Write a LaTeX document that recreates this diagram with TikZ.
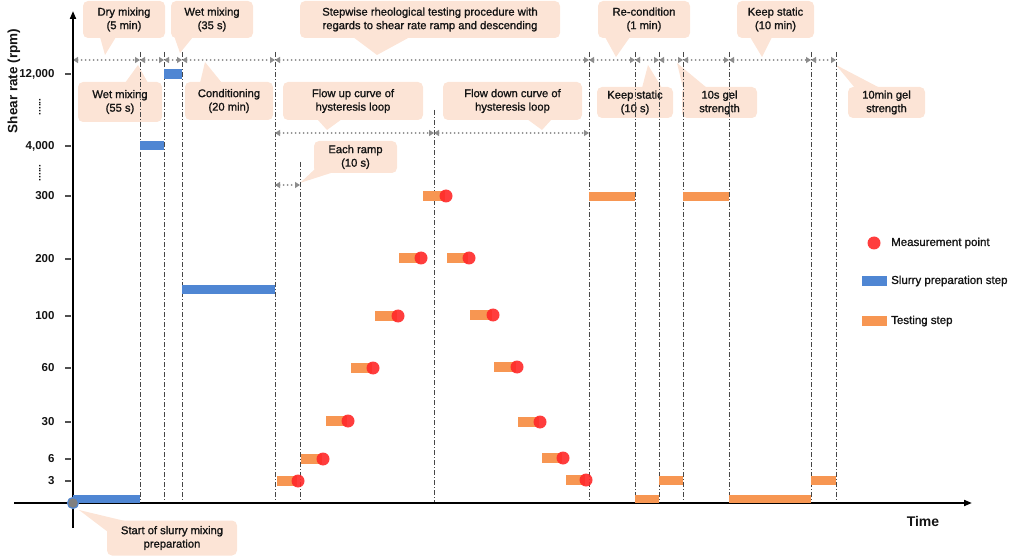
\documentclass[tikz,border=0pt]{standalone}
\usepackage{fontspec}
\setmainfont{Liberation Sans}
\newfontfamily\medfont[FakeBold=1.2]{Liberation Sans}
\usetikzlibrary{arrows.meta}
\definecolor{peach}{RGB}{252,228,214}
\definecolor{barblue}{RGB}{79,134,211}
\definecolor{barorange}{RGB}{247,150,82}
\definecolor{dotred}{RGB}{255,40,40}
\definecolor{arrgrey}{RGB}{140,140,140}
\definecolor{vgrey}{RGB}{70,70,70}
\definecolor{tickgrey}{RGB}{80,80,80}
\definecolor{txt}{RGB}{20,20,20}
\begin{document}
\begin{tikzpicture}[x=1pt,y=-1pt,
  callout/.style={fill=peach,rounded corners=5pt,align=center,inner sep=0pt,text=txt,
    font=\medfont\fontsize{11.2}{13.5}\selectfont},
  ptr/.style={fill=peach},
  span/.style={draw=arrgrey,line width=2pt,line cap=round,dash pattern=on 0pt off 4pt,
    {Triangle[length=5pt,width=6pt]}-{Triangle[length=5pt,width=6pt]}},
  vline/.style={draw=vgrey,line width=0.9pt,dash pattern=on 5pt off 2pt on 1pt off 2pt},
  axis/.style={draw=black,line width=1.8pt,-{Triangle[length=8pt,width=6pt]}},
  tickmark/.style={draw=tickgrey,line width=2.5pt},
  ticklab/.style={anchor=east,text=txt,font=\fontsize{11.5}{13}\selectfont\bfseries},
  bbar/.style={fill=barblue},
  obar/.style={fill=barorange},
  mdot/.style={fill=dotred,fill opacity=0.9},
  legtext/.style={anchor=west,text=txt,inner sep=0pt,font=\medfont\fontsize{11.5}{13}\selectfont}
]
\useasboundingbox (0,0) rectangle (1010,556);

% ---- callouts (boxes and pointers)
\node[callout,minimum width=82pt,minimum height=37pt] (dry) at (124,19.5) {Dry mixing\\(5 min)};
\fill[ptr] (100,37) -- (105,55) -- (116,37) -- cycle;
\node[callout,minimum width=82pt,minimum height=37pt] (wet35) at (212,19.5) {Wet mixing\\(35 s)};
\fill[ptr] (173,33) -- (180,53) -- (193,37) -- cycle;
\node[callout,minimum width=84pt,minimum height=40pt] (wet55) at (120,102) {Wet mixing\\(55 s)};
\fill[ptr] (125,83) -- (138,65) -- (148,83) -- cycle;
\node[callout,minimum width=88pt,minimum height=38pt] (cond) at (229,101) {Conditioning\\(20 min)};
\fill[ptr] (200,83) -- (205,62) -- (222,83) -- cycle;
\node[callout,minimum width=260pt,minimum height=37pt] (step) at (430,19.5) {Stepwise rheological testing procedure with\\regards to shear rate ramp and descending};
\fill[ptr] (353,37) -- (377,55) -- (410,37) -- cycle;
\node[callout,minimum width=140pt,minimum height=38pt] (fup) at (353,101) {Flow up curve of\\hysteresis loop};
\fill[ptr] (317,119) -- (327,130) -- (342,119) -- cycle;
\node[callout,minimum width=139pt,minimum height=38pt] (fdown) at (512.5,101) {Flow down curve of\\hysteresis loop};
\fill[ptr] (527,119) -- (542,130) -- (552,119) -- cycle;
\node[callout,minimum width=83pt,minimum height=32pt] (ramp) at (355.5,157) {Each ramp\\(10 s)};
\fill[ptr] (316,168) -- (300,183) -- (334,172) -- cycle;
\node[callout,minimum width=92pt,minimum height=37pt] (recond) at (644,19.5) {Re-condition\\(1 min)};
\fill[ptr] (605,37) -- (616,57) -- (630,37) -- cycle;
\node[callout,minimum width=77pt,minimum height=37pt] (ks10m) at (775.5,19.5) {Keep static\\(10 min)};
\fill[ptr] (750,37) -- (762,57) -- (772,37) -- cycle;
\node[callout,minimum width=76pt,minimum height=31pt] (ks10s) at (635,102.5) {Keep static\\(10 s)};
\fill[ptr] (642,88) -- (648,65) -- (662,88) -- cycle;
\node[callout,minimum width=75pt,minimum height=31pt] (gel10s) at (719.5,102.5) {10s gel\\strength};
\fill[ptr] (683,88) -- (677,63) -- (707,88) -- cycle;
\node[callout,minimum width=77pt,minimum height=31pt] (gel10m) at (886.5,102.5) {10min gel\\strength};
\fill[ptr] (855,88) -- (836,65) -- (880,88) -- cycle;
\node[callout,minimum width=130pt,minimum height=35pt] (start) at (172,538) {Start of slurry mixing\\preparation};
\fill[ptr] (108,532) -- (79,510) -- (125,521) -- cycle;

% ---- vertical dash-dot lines
\foreach \x/\yt in {140/52,164/52,182/52,275/52,300/162,434/110,589/52,635/52,659/52,683/52,729/52,811/52,836/52}
  \draw[vline] (\x,\yt) -- (\x,503);

% ---- span arrows
\foreach \i/\x in {0/73,1/140,2/164,3/182,4/275,5/589,6/635,7/659,8/683,9/729,10/811,11/836}
  \coordinate (t\i) at (\x,60);
\foreach \a/\b in {0/1,1/2,2/3,3/4,4/5,5/6,6/7,7/8,8/9,9/10,10/11}
  \draw[span] (t\a) -- (t\b);
\coordinate (m0) at (275,133); \coordinate (m1) at (434,133); \coordinate (m2) at (589,133);
\draw[span] (m0) -- (m1);
\draw[span] (m1) -- (m2);
\coordinate (r0) at (275,185); \coordinate (r1) at (300,185);
\draw[span] (r0) -- (r1);

% ---- axes
\coordinate (xs) at (14,503); \coordinate (xe) at (972,503);
\coordinate (ys) at (73,528); \coordinate (ye) at (73,11);
\draw[axis] (xs) -- (xe);
\draw[axis] (ys) -- (ye);
\node[text=txt,font=\fontsize{14}{16}\selectfont\bfseries] (timelab) at (923,521) {Time};
\node[rotate=90,text=txt,font=\fontsize{13.5}{15}\selectfont\bfseries] (ylab) at (14,81) {Shear rate (rpm)};

% ---- ticks
\foreach \v/\y in {{12,000}/74,{4,000}/146,300/196,200/259,100/316,60/368,30/422,6/459,3/481}{
  \draw[tickmark] (65,\y) -- (71,\y);
  \node[ticklab] at (58,\y) {\v};
}
\node[rotate=90,text=txt,font=\fontsize{10}{12}\selectfont\bfseries] (dots1) at (40,107) {......};
\node[rotate=90,text=txt,font=\fontsize{10}{12}\selectfont\bfseries] (dots2) at (40,173) {......};

% ---- slurry preparation bars
\fill[bbar] (73,495) rectangle (140,503);
\fill[bbar] (140,141) rectangle (164,150);
\fill[bbar] (164,69) rectangle (182,79);
\fill[bbar] (182,285) rectangle (275,294);

% ---- testing bars with measurement points
\foreach \a/\b/\y in {277/297/481,301/322/459,326/347/421,351/372/368,375/397/316,399/420/258,423/445/196,
                      447/468/258,470/492/315,494/516/367,518/539/422,542/562/458,566/585/480}{
  \fill[obar] (\a,\y-5) rectangle (\b,\y+5);
  \fill[mdot] (\b+1,\y) circle (6.5);
}
\fill[obar] (589,192) rectangle (635,201);
\fill[obar] (683,192) rectangle (729,201);
\fill[obar] (635,495) rectangle (659,503);
\fill[obar] (659,476) rectangle (683,485);
\fill[obar] (729,495) rectangle (811,503);
\fill[obar] (811,476) rectangle (836,485);

% ---- origin
\filldraw[fill=gray,draw=barblue,line width=1.2pt] (73,503) circle (5.5);

% ---- legend
\fill[mdot] (874,243) circle (6.5);
\node[legtext] (l1) at (891,243) {Measurement point};
\fill[bbar] (862,276) rectangle (887,286);
\node[legtext] (l2) at (891,281) {Slurry preparation step};
\fill[obar] (862,316) rectangle (887,326);
\node[legtext] (l3) at (891,321) {Testing step};
\end{tikzpicture}
\end{document}
